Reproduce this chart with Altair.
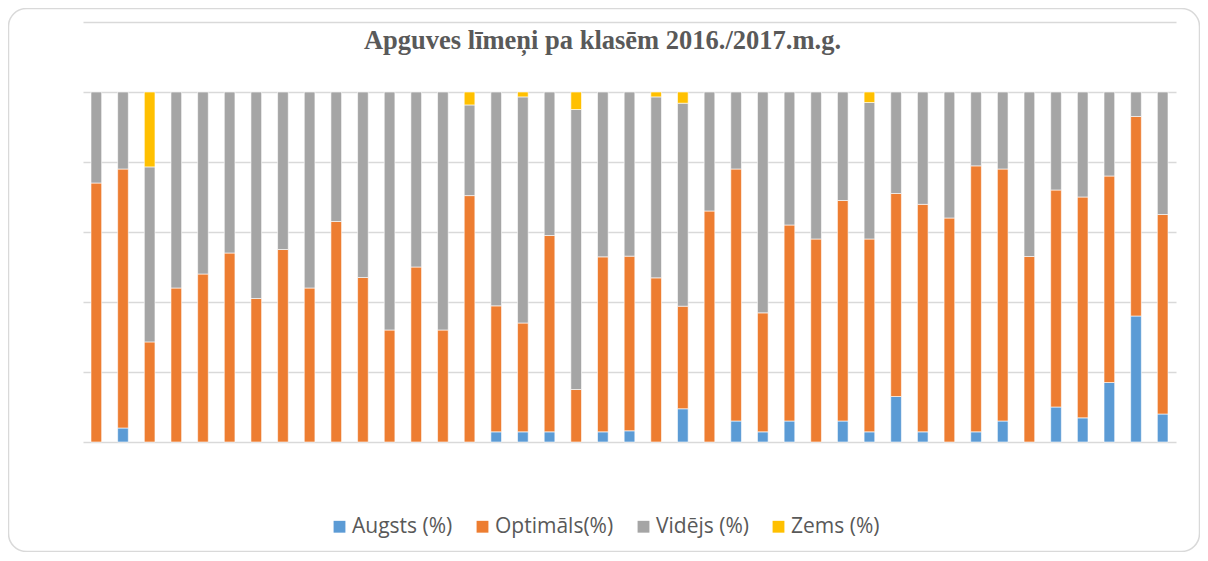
import altair as alt
import pandas as pd

klases = ["1", "2", "3", "4", "5", "6", "7", "8", "9", "10",
          "11", "12", "13", "14", "15", "16", "17", "18", "19", "20",
          "21", "22", "23", "24", "25", "26", "27", "28", "29", "30",
          "31", "32", "33", "34", "35", "36", "37", "38", "39", "40", "41"]

augsts = [0, 4, 0, 0, 0, 0, 0, 0, 0, 0,
          0, 0, 0, 0, 0, 2.9, 2.9, 2.9, 0, 2.9,
          3.2, 0, 9.5, 0, 6, 2.9, 6, 0, 6, 2.9,
          13, 2.9, 0, 2.9, 6, 0, 10, 6.9, 17, 36, 8]
optimals = [74, 74, 28.6, 44, 48, 54, 41, 55, 44, 63,
            47, 32, 50, 32, 70.4, 36, 31.1, 56.1, 15, 50,
            49.9, 46.9, 29.3, 66, 72, 34, 56, 58, 63, 55.1,
            58, 65, 64, 76, 72, 53, 62, 63.1, 59, 57, 57]
videjs = [26, 22, 50, 56, 52, 46, 59, 45, 56, 37,
          53, 68, 50, 68, 25.9, 61.1, 64.6, 41, 80, 47.1,
          46.9, 51.7, 58, 34, 22, 63.1, 38, 42, 31, 39,
          29, 32.1, 36, 21.1, 22, 47, 28, 30, 24, 7, 35]
zems = [0, 0, 21.4, 0, 0, 0, 0, 0, 0, 0,
        0, 0, 0, 0, 3.7, 0, 1.4, 0, 5, 0,
        0, 1.4, 3.2, 0, 0, 0, 0, 0, 0, 3,
        0, 0, 0, 0, 0, 0, 0, 0, 0, 0, 0]

limeni = ["Augsts (%)", "Optimāls(%)", "Vidējs (%)", "Zems (%)"]
krasas = ["#5B9BD5", "#ED7D31", "#A5A5A5", "#FFC000"]
y_ticks = [0, 20, 40, 60, 80, 100, 120]

rows = []
for i, k in enumerate(klases):
    for j, series in enumerate([augsts, optimals, videjs, zems]):
        if series[i] > 0:
            rows.append({"klase": k, "limenis": limeni[j], "ord": j, "vertiba": series[i]})
df = pd.DataFrame(rows)

border = alt.Chart(pd.DataFrame({"a": [0]})).mark_rect(
    filled=False, stroke="#D9D9D9", strokeWidth=1.5, cornerRadius=18
).encode(
    x=alt.value(-74.5), x2=alt.value(1116.5), y=alt.value(-13.5), y2=alt.value(529.5)
)

bars = alt.Chart(df).mark_bar(stroke="white", strokeWidth=0.6).encode(
    x=alt.X("klase:N", sort=klases,
            scale=alt.Scale(paddingInner=0.6, paddingOuter=0.3), axis=None),
    y=alt.Y("vertiba:Q", stack="zero",
            scale=alt.Scale(domain=[0, 120], nice=False),
            axis=alt.Axis(values=y_ticks, grid=True, labels=False, ticks=False,
                          domain=False, title=None, gridColor="#D9D9D9", gridWidth=1.5)),
    color=alt.Color("limenis:N", scale=alt.Scale(domain=limeni, range=krasas),
                    legend=alt.Legend(title=None, orient="none", legendX=246, legendY=494,
                                      direction="horizontal", symbolType="square",
                                      symbolSize=140, symbolStrokeWidth=0,
                                      labelFont="Open Sans", labelFontSize=21,
                                      labelColor="#595959", labelOffset=2,
                                      columnPadding=19, padding=0, symbolOpacity=1)),
    order=alt.Order("ord:Q", sort="ascending"),
)

chart = alt.layer(border, bars).properties(
    width=1093, height=420,
    background="white",
    title=alt.TitleParams("Apguves līmeņi pa klasēm 2016./2017.m.g.",
                          font="Liberation Serif", fontSize=26.5, fontWeight="bold",
                          color="#595959", anchor="middle", offset=-30, dx=-27, dy=38,
                          baseline="alphabetic"),
    padding={"left": 75, "top": 14, "right": 24, "bottom": 110},
    autosize=alt.AutoSizeParams(type="none"),
).configure_view(stroke=None)

chart.save("out.html", embed_options={"renderer": "svg", "actions": False})
